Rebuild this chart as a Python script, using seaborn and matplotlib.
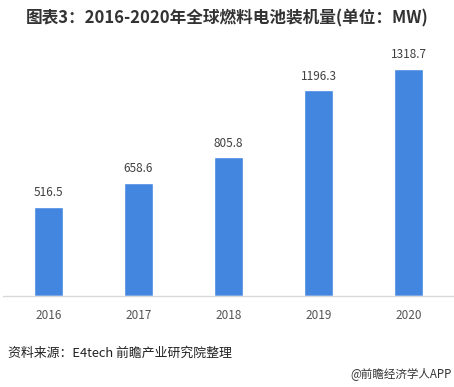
import pandas as pd
import matplotlib.pyplot as plt
import seaborn as sns

years = ["2016", "2017", "2018", "2019", "2020"]
capacity = [516.5, 658.6, 805.8, 1196.3, 1318.7]

df = pd.DataFrame({"year": years, "mw": capacity})

sns.set_style("white")
plt.rcParams['font.family'] = ['Noto Sans CJK SC', 'DejaVu Sans']

fig = plt.figure(figsize=(4.54, 3.87), dpi=100)
ax = fig.add_axes([0.007, 0.235, 0.993, 0.649])

sns.barplot(data=df, x="year", y="mw", color="#4286E0", width=0.32,
            saturation=1, ax=ax)

for i, v in enumerate(capacity):
    ax.text(i, v + 45, f"{v:.1f}", ha="center", va="bottom",
            fontsize=8.5, color="#404040")

ax.set_ylim(0, 1460)
ax.set_xlim(-0.5, 4.5)
ax.set_xlabel("")
ax.set_ylabel("")
ax.set_yticks([])
ax.tick_params(axis="x", length=0, labelsize=8.5, labelcolor="#555555", pad=9)
for s in ["top", "right", "left"]:
    ax.spines[s].set_visible(False)
ax.spines["bottom"].set_color("#D9D9D9")
ax.spines["bottom"].set_linewidth(1)

fig.text(0.5, 0.953, "图表3：2016-2020年全球燃料电池装机量(单位：MW)",
         ha="center", va="center", fontsize=12, fontweight="bold", color="#333333")
fig.text(0.018, 0.088, "资料来源：E4tech 前瞻产业研究院整理",
         ha="left", va="center", fontsize=9.3, color="#222222")
fig.text(0.995, 0.035, "@前瞻经济学人APP",
         ha="right", va="center", fontsize=8.3, color="#333333")

fig.savefig("out.png", dpi=100)
